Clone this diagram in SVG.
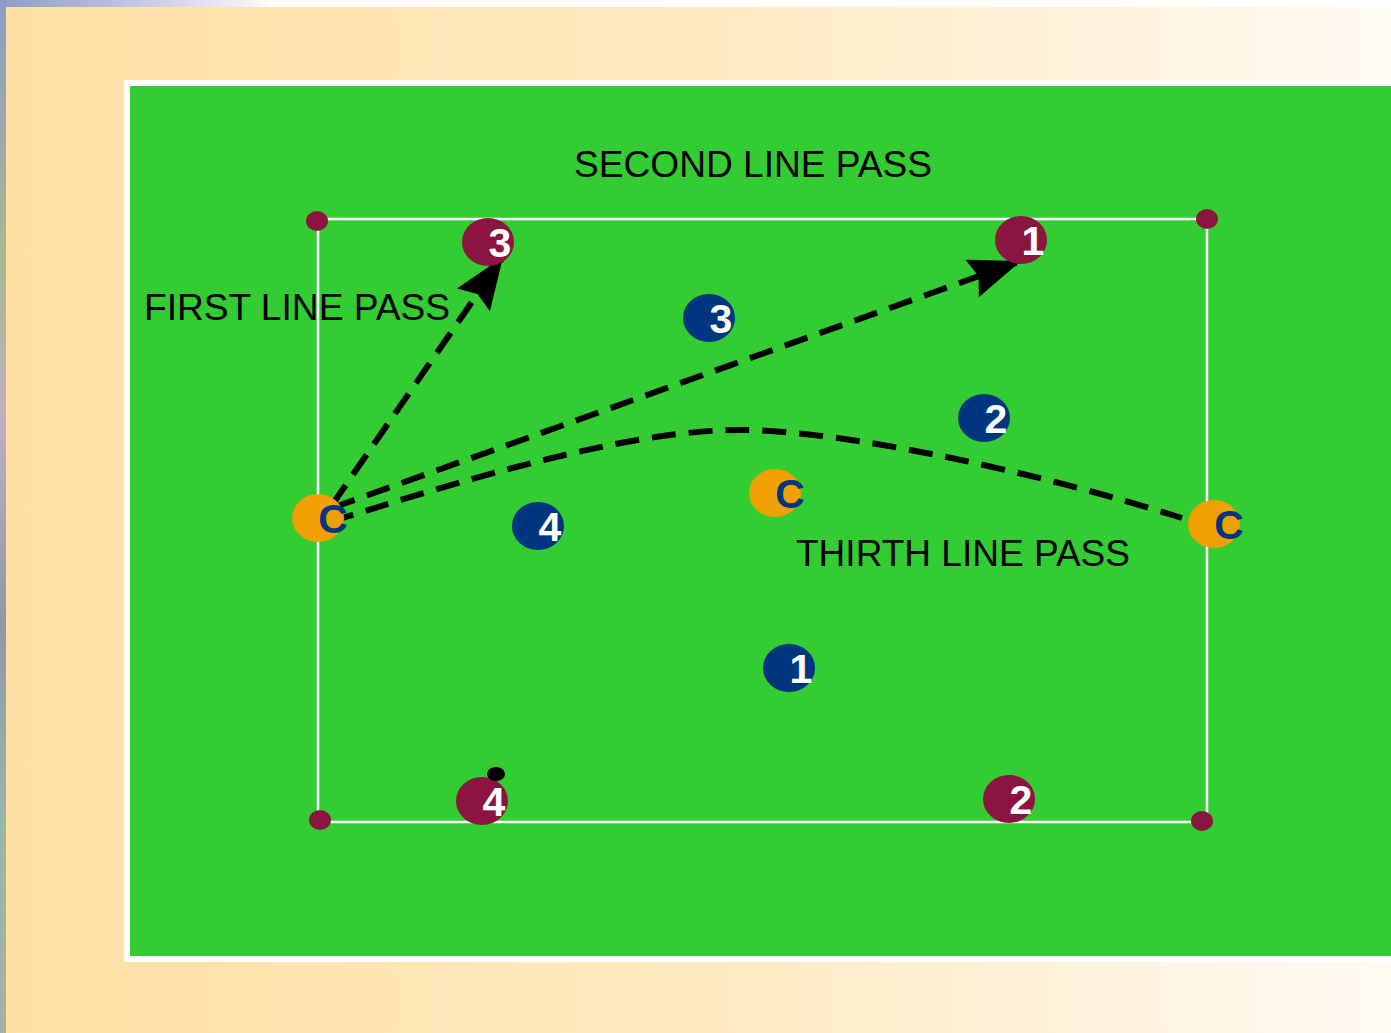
<svg xmlns="http://www.w3.org/2000/svg" width="1391" height="1033" viewBox="0 0 1391 1033">
<defs>
<linearGradient id="bg" x1="0" y1="0" x2="1" y2="0">
<stop offset="0" stop-color="#FFE0A3"/>
<stop offset="0.5" stop-color="#FFE9C0"/>
<stop offset="1" stop-color="#FFFAF3"/>
</linearGradient>
<linearGradient id="topstrip" x1="0" y1="0" x2="1" y2="0">
<stop offset="0" stop-color="#8E9CC6"/>
<stop offset="0.08" stop-color="#B8BEDC"/>
<stop offset="0.2" stop-color="#FFFFFF"/>
<stop offset="1" stop-color="#FFFFFF"/>
</linearGradient>
<linearGradient id="leftstrip" x1="0" y1="0" x2="0" y2="1">
<stop offset="0" stop-color="#8E9CC6"/>
<stop offset="0.25" stop-color="#A8B890"/>
<stop offset="0.4" stop-color="#C0B0C0"/>
<stop offset="0.6" stop-color="#9098A8"/>
<stop offset="0.8" stop-color="#98B8A8"/>
<stop offset="1" stop-color="#A8B0A8"/>
</linearGradient>
<marker id="ah" markerUnits="userSpaceOnUse" markerWidth="56" markerHeight="44" refX="52" refY="20" orient="auto">
<path d="M0,0 L52,20 L0,40 L7,20 Z" fill="#000"/>
</marker>
<style>
.fieldline{stroke:#FFFFFF;stroke-width:2.5;fill:none}
.cone{fill:#8B1540}
.red{fill:#8B1540}
.blue{fill:#003580}
.coach{fill:#F0A000}
.num{font-family:"Liberation Sans",Arial,sans-serif;font-weight:bold;font-size:41px;fill:#FFFFFF;text-anchor:middle}
.c{font-family:"Liberation Sans",Arial,sans-serif;font-weight:bold;font-size:41px;fill:#003580;text-anchor:middle}
.label{font-family:"Liberation Sans",Arial,sans-serif;font-size:36px;fill:#000}
.pass{stroke:#000;stroke-width:6;fill:none;stroke-dasharray:24 13}
</style>
</defs>
<rect x="0" y="0" width="1391" height="1033" fill="url(#bg)"/>
<rect x="0" y="0" width="1391" height="7" fill="url(#topstrip)"/>
<rect x="0" y="0" width="6" height="1033" fill="url(#leftstrip)"/>
<rect x="124" y="80" width="1280" height="882" fill="#FFFFFF"/>
<rect x="130" y="86" width="1270" height="870" fill="#33CC33"/>
<g id="pitch">
<rect class="fieldline" x="318" y="219" width="889" height="603"/>
<ellipse class="cone" cx="317" cy="221" rx="11" ry="10"/>
<ellipse class="cone" cx="1207" cy="219" rx="11" ry="10"/>
<ellipse class="cone" cx="320" cy="820" rx="11" ry="10"/>
<ellipse class="cone" cx="1202" cy="821" rx="11" ry="10"/>
</g>
<g id="labels">
<text class="label" x="574" y="177" textLength="358" lengthAdjust="spacingAndGlyphs">SECOND LINE PASS</text>
<text class="label" x="144" y="320" textLength="306" lengthAdjust="spacingAndGlyphs">FIRST LINE PASS</text>
<text class="label" x="796" y="566" textLength="334" lengthAdjust="spacingAndGlyphs">THIRTH LINE PASS</text>
</g>
<g id="connectors">
<path class="pass" d="M332,505 L503,257" marker-end="url(#ah)"/>
<path class="pass" d="M332,508 L1021,261" marker-end="url(#ah)"/>
<path class="pass" d="M330,522 C500,468 640,430 740,430 C840,430 1030,470 1182,518"/>
</g>
<g id="red3"><ellipse class="red" cx="488" cy="242" rx="26" ry="24"/><text class="num" x="500" y="257">3</text></g>
<g id="red1"><ellipse class="red" cx="1021" cy="240" rx="26" ry="24"/><text class="num" x="1033" y="255">1</text></g>
<g id="red4"><ellipse class="red" cx="482" cy="801" rx="26" ry="24"/><text class="num" x="494" y="816">4</text></g>
<g id="red2"><ellipse class="red" cx="1009" cy="799" rx="26" ry="24"/><text class="num" x="1021" y="814">2</text></g>
<g id="ball"><ellipse cx="496" cy="774" rx="9" ry="7" fill="#000"/></g>
<g id="blue3"><ellipse class="blue" cx="709" cy="318" rx="26" ry="24"/><text class="num" x="721" y="333">3</text></g>
<g id="blue2"><ellipse class="blue" cx="984" cy="418" rx="26" ry="24"/><text class="num" x="996" y="433">2</text></g>
<g id="blue4"><ellipse class="blue" cx="538" cy="526" rx="26" ry="24"/><text class="num" x="550" y="541">4</text></g>
<g id="blue1"><ellipse class="blue" cx="789" cy="668" rx="26" ry="24"/><text class="num" x="801" y="683">1</text></g>
<g id="coachLeft"><ellipse class="coach" cx="318" cy="518" rx="26" ry="24"/><text class="c" x="333" y="533">C</text></g>
<g id="coachMid"><ellipse class="coach" cx="775" cy="493" rx="26" ry="24"/><text class="c" x="790" y="508">C</text></g>
<g id="coachRight"><ellipse class="coach" cx="1214" cy="524" rx="26" ry="24"/><text class="c" x="1229" y="539">C</text></g>
</svg>
